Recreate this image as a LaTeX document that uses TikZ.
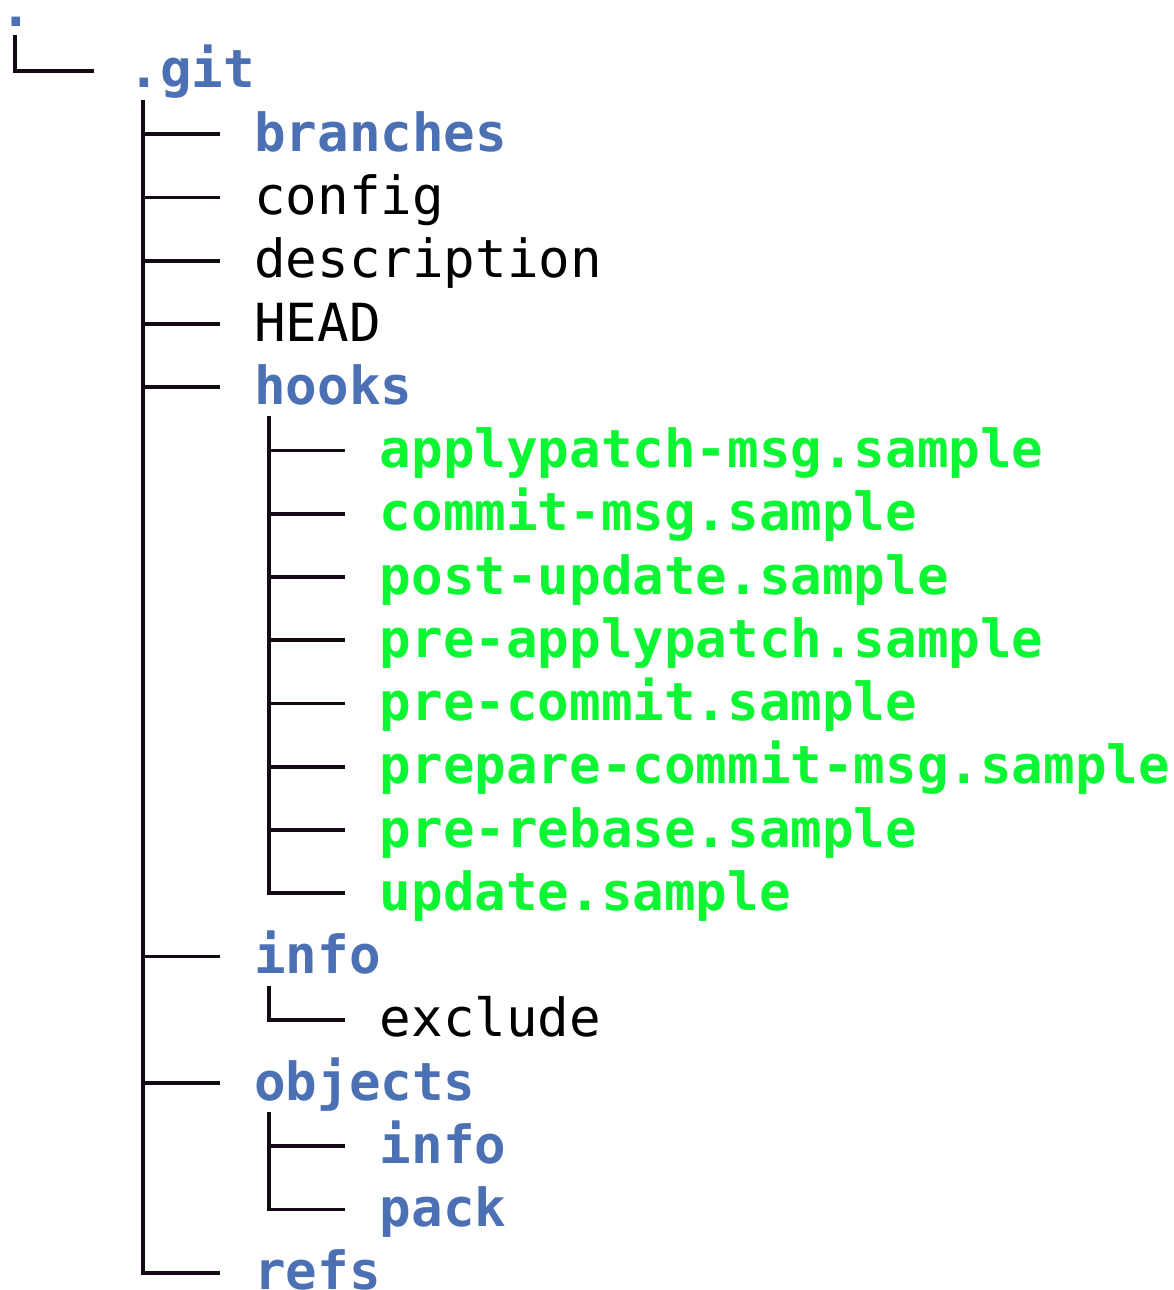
\documentclass[tikz,border=0pt]{standalone}
\usepackage{fontspec}
\newfontfamily\treefont{DejaVu Sans Mono}
\definecolor{dirblue}{RGB}{76,112,180}
\definecolor{exegreen}{RGB}{12,246,52}
\definecolor{treeline}{RGB}{20,10,20}
\tikzset{
  entry/.style={anchor=base west, inner sep=0pt, outer sep=0pt,
    font=\treefont\fontsize{52.5}{63}\selectfont},
  dirent/.style={entry, text=dirblue, font=\treefont\bfseries\fontsize{52.5}{63}\selectfont},
  exeent/.style={entry, text=exegreen, font=\treefont\bfseries\fontsize{52.5}{63}\selectfont},
  fileent/.style={entry, text=black},
  branch/.style={draw=treeline, line width=3.8pt},
}
\newcommand{\twig}[2]{\draw[branch] ([xshift=14.5pt,yshift=-12pt]#1.base west) |- ([xshift=-34.5pt,yshift=17pt]#2.base west);}
\begin{document}
\begin{tikzpicture}[x=1pt,y=-1pt]
\useasboundingbox (0,0) rectangle (1173,1290);
% row r: baseline = 88 + (r-1)*63.25 ; column c: x = c*31.4 + 3
\node[dirent]  (root)   at (0,27)          {.};
\node[dirent]  (git)    at (128.6,88)      {.git};
\node[dirent]  (branches) at (254.2,151.25) {branches};
\node[fileent] (config) at (254.2,214.5)   {config};
\node[fileent] (descr)  at (254.2,277.75)  {description};
\node[fileent] (head)   at (254.2,341)     {HEAD};
\node[dirent]  (hooks)  at (254.2,404.25)  {hooks};
\node[exeent]  (h1)     at (379.8,467.5)   {applypatch-msg.sample};
\node[exeent]  (h2)     at (379.8,530.75)  {commit-msg.sample};
\node[exeent]  (h3)     at (379.8,594)     {post-update.sample};
\node[exeent]  (h4)     at (379.8,657.25)  {pre-applypatch.sample};
\node[exeent]  (h5)     at (379.8,720.5)   {pre-commit.sample};
\node[exeent]  (h6)     at (379.8,783.75)  {prepare-commit-msg.sample};
\node[exeent]  (h7)     at (379.8,847)     {pre-rebase.sample};
\node[exeent]  (h8)     at (379.8,910.25)  {update.sample};
\node[dirent]  (info)   at (254.2,973.5)   {info};
\node[fileent] (exclude) at (379.8,1036.75) {exclude};
\node[dirent]  (objects) at (254.2,1100)   {objects};
\node[dirent]  (oinfo)  at (379.8,1163.25) {info};
\node[dirent]  (opack)  at (379.8,1226.5)  {pack};
\node[dirent]  (refs)   at (254.2,1289.75) {refs};
% connectors
\draw[branch] ([xshift=15pt,yshift=-8pt]root.base west) |- ([xshift=-34.5pt,yshift=17pt]git.base west);
\foreach \c in {branches,config,descr,head,hooks,info,objects,refs} {\twig{git}{\c}}
\foreach \c in {h1,h2,h3,h4,h5,h6,h7,h8} {\twig{hooks}{\c}}
\twig{info}{exclude}
\twig{objects}{oinfo}
\twig{objects}{opack}
\end{tikzpicture}
\end{document}
